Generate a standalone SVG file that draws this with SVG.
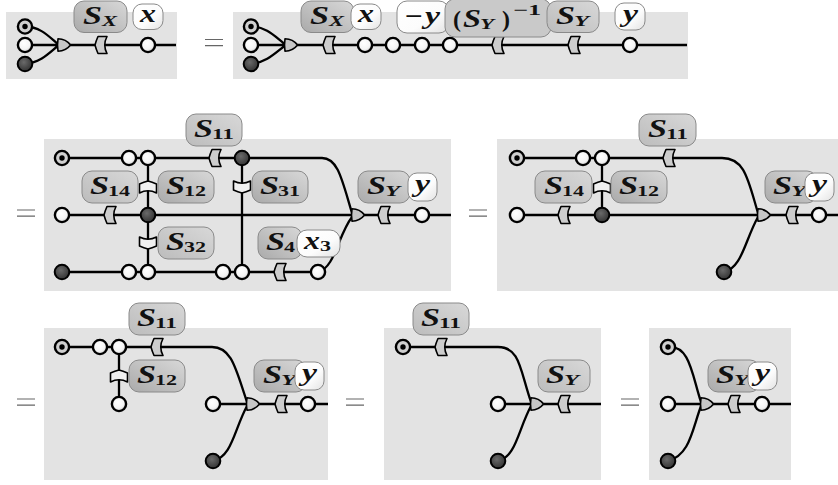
<svg xmlns="http://www.w3.org/2000/svg" width="838" height="485" viewBox="0 0 838 485">
<style>
.panel{fill:#e3e3e3}
.w{fill:none;stroke:#000;stroke-width:2.3}
.eq{stroke:#666;stroke-width:1.2}
.lab{stroke:#8a8a8a;stroke-width:1}
.dk{fill:url(#gd)}.lt{fill:url(#gl)}.fl{fill:#c9c9c9}.wh{fill:url(#gw)}
.m{font-family:"Liberation Serif",serif;font-weight:bold;font-style:italic;font-size:26px;fill:#111}
.s{font-size:15px}
.d{font-family:"Liberation Serif",serif;font-weight:bold;font-style:normal;font-size:15px}
.o{font-family:"Liberation Serif",serif;font-weight:bold;font-style:normal;font-size:24px;fill:#111}
</style>
<defs>
<linearGradient id="gd" x1="0" y1="1" x2="1" y2="0"><stop offset="0" stop-color="#aaa"/><stop offset="1" stop-color="#d8d8d8"/></linearGradient>
<linearGradient id="gl" x1="0" y1="1" x2="1" y2="0"><stop offset="0" stop-color="#bcbcbc"/><stop offset="1" stop-color="#d8d8d8"/></linearGradient>
<linearGradient id="gw" x1="0" y1="0" x2="1" y2="1"><stop offset="0" stop-color="#fff"/><stop offset="0.6" stop-color="#fcfcfc"/><stop offset="1" stop-color="#e2e2e2"/></linearGradient>
<radialGradient id="co" cx="0.42" cy="0.38" r="0.7"><stop offset="0" stop-color="#fff"/><stop offset="0.6" stop-color="#f4f4f4"/><stop offset="1" stop-color="#bdbdbd"/></radialGradient>
<radialGradient id="cd" cx="0.42" cy="0.38" r="0.7"><stop offset="0" stop-color="#6a6a6a"/><stop offset="1" stop-color="#2c2c2c"/></radialGradient>
<g id="open"><circle r="7.1" fill="url(#co)" stroke="#000" stroke-width="2.4"/></g>
<g id="full"><circle r="7.3" fill="url(#cd)" stroke="#000" stroke-width="2"/></g>
<g id="tgt"><circle r="7.1" fill="#cfcfcf" stroke="#000" stroke-width="2.4"/><circle r="2.7" fill="#000"/></g>
<path id="fx" d="M-3 -8.5H6Q1.5 0 6 8.5H-3Q-5 4 -6 0Q-5 -4 -3 -8.5Z" fill="#cdcdcd" stroke="#000" stroke-width="1.6" stroke-linejoin="round"/>
<path id="fxv" d="M-3 -8.5H6Q1.5 0 6 8.5H-3Q-5 4 -6 0Q-5 -4 -3 -8.5Z" fill="#f0f0f0" stroke="#000" stroke-width="1.6" stroke-linejoin="round"/>
<path id="tri" d="M0 -6.2Q8 -6 12.5 0Q8 6 0 6.2Q-1 0 0 -6.2Z" fill="#c6c6c6" stroke="#000" stroke-width="1.6" stroke-linejoin="round"/>
</defs>

<g id="panels">
<rect class="panel" x="6" y="12" width="171" height="67"/>
<rect class="panel" x="233" y="12" width="455" height="67"/>
<rect class="panel" x="44" y="139" width="407" height="152"/>
<rect class="panel" x="497" y="139" width="341" height="152"/>
<rect class="panel" x="44" y="328" width="284" height="152"/>
<rect class="panel" x="384" y="328" width="217" height="152"/>
<rect class="panel" x="649" y="328" width="142" height="152"/>
</g>

<g id="equals">
<path class="eq" d="M205 39.5H223M205 45.7H223M17 210H35M17 216.2H35M469 210H487M469 216.2H487M17 399H35M17 405.2H35M346 399H364M346 405.2H364M621 399H639M621 405.2H639"/>
</g>

<g id="connectors">
<path class="w" d="M25 45H176M25 26.5C42 27 50 38 59 45M25 64C42 62 50 52 59 45"/>
<path class="w" d="M251 45H687M251 26.5C268 27 276 38 286 45M251 64C268 62 276 52 286 45"/>
<path class="w" d="M62 158H322C338 158 342 180 352 213M62 215H451M62 272H318C335 268 338 235 352 217M148 158V272M242 158V272"/>
<path class="w" d="M517 158H722C745 158 748 180 758 213M517 215H838M724 272C742 268 745 240 758 217M602 158V215"/>
<path class="w" d="M62 347H212C232 347 236 370 247 402M213 404H328M213 461C232 457 234 430 247 406M119 347V404"/>
<path class="w" d="M403 347H498C520 347 520 370 531 402M498 404H601M498 461C516 457 518 430 531 406"/>
<path class="w" d="M668 347C690 345 692 375 701 402M668 404H791M668 461C690 455 692 430 701 406"/>
</g>

<g id="nodes">
<g id="a1"><use href="#tgt" x="25" y="26.5"/></g><g id="a2"><use href="#open" x="25" y="45"/></g><g id="a3"><use href="#full" x="25" y="64"/></g>
<g id="a4"><use href="#tri" x="58" y="45"/></g><g id="a5"><use href="#fx" x="101" y="45"/></g><g id="a6"><use href="#open" x="148" y="45"/></g>

<g id="b1"><use href="#tgt" x="251" y="26.5"/></g><g id="b2"><use href="#open" x="251" y="45"/></g><g id="b3"><use href="#full" x="251" y="64"/></g>
<g id="b4"><use href="#tri" x="285" y="45"/></g><g id="b5"><use href="#fx" x="329" y="45"/></g>
<g id="b6"><use href="#open" x="365" y="45"/></g><g id="b7"><use href="#open" x="393" y="45"/></g><g id="b8"><use href="#open" x="422" y="45"/></g><g id="b9"><use href="#open" x="450" y="45"/></g>
<g id="b10"><use href="#fx" x="498" y="45"/></g><g id="b11"><use href="#fx" x="574" y="45"/></g><g id="b12"><use href="#open" x="630" y="45"/></g>

<g id="c1"><use href="#tgt" x="62" y="158"/></g><g id="c2"><use href="#open" x="129" y="158"/></g><g id="c3"><use href="#open" x="148" y="158"/></g>
<g id="c4"><use href="#fx" x="215" y="158"/></g><g id="c5"><use href="#full" x="242" y="158"/></g>
<g id="c6"><use href="#open" x="62" y="215"/></g><g id="c7"><use href="#fx" x="110" y="215"/></g><g id="c8"><use href="#full" x="148" y="215"/></g>
<g id="c9"><use href="#full" x="62" y="272"/></g><g id="c10"><use href="#open" x="129" y="272"/></g><g id="c11"><use href="#open" x="148" y="272"/></g>
<g id="c12"><use href="#open" x="223" y="272"/></g><g id="c13"><use href="#open" x="242" y="272"/></g><g id="c14"><use href="#fx" x="280" y="272"/></g><g id="c15"><use href="#open" x="318" y="272"/></g>
<g id="c16"><use href="#fxv" transform="translate(148 187) rotate(90)"/></g><g id="c17"><use href="#fxv" transform="translate(148 243) rotate(-90)"/></g><g id="c18"><use href="#fxv" transform="translate(242 187) rotate(-90)"/></g>
<g id="c19"><use href="#tri" x="352" y="215"/></g><g id="c20"><use href="#fx" x="384" y="215"/></g><g id="c21"><use href="#open" x="422" y="215"/></g>

<g id="d1"><use href="#tgt" x="517" y="158"/></g><g id="d2"><use href="#open" x="583" y="158"/></g><g id="d3"><use href="#open" x="602" y="158"/></g><g id="d4"><use href="#fx" x="669" y="158"/></g>
<g id="d5"><use href="#open" x="517" y="215"/></g><g id="d6"><use href="#fx" x="564" y="215"/></g><g id="d7"><use href="#full" x="602" y="215"/></g>
<g id="d8"><use href="#fxv" transform="translate(602 187) rotate(90)"/></g><g id="d9"><use href="#full" x="724" y="272"/></g>
<g id="d10"><use href="#tri" x="758" y="215"/></g><g id="d11"><use href="#fx" x="792" y="215"/></g><g id="d12"><use href="#open" x="819" y="215"/></g>

<g id="e1"><use href="#tgt" x="62" y="347"/></g><g id="e2"><use href="#open" x="100" y="347"/></g><g id="e3"><use href="#open" x="119" y="347"/></g><g id="e4"><use href="#fx" x="157" y="347"/></g>
<g id="e5"><use href="#fxv" transform="translate(119 376) rotate(90)"/></g><g id="e6"><use href="#open" x="119" y="404"/></g>
<g id="e7"><use href="#open" x="213" y="404"/></g><g id="e8"><use href="#full" x="213" y="461"/></g><g id="e9"><use href="#tri" x="247" y="404"/></g><g id="e10"><use href="#fx" x="281" y="404"/></g><g id="e11"><use href="#open" x="308" y="404"/></g>

<g id="f1"><use href="#tgt" x="403" y="347"/></g><g id="f2"><use href="#fx" x="441" y="347"/></g><g id="f3"><use href="#open" x="498" y="404"/></g><g id="f4"><use href="#full" x="498" y="461"/></g>
<g id="f5"><use href="#tri" x="531" y="404"/></g><g id="f6"><use href="#fx" x="564" y="404"/></g>

<g id="h1"><use href="#tgt" x="668" y="347"/></g><g id="h2"><use href="#open" x="668" y="404"/></g><g id="h3"><use href="#full" x="668" y="461"/></g>
<g id="h4"><use href="#tri" x="701" y="404"/></g><g id="h5"><use href="#fx" x="734" y="404"/></g><g id="h6"><use href="#open" x="762" y="404"/></g>
</g>

<g id="labels">
<g id="l-sx1"><rect class="lab dk" x="74" y="1" width="53" height="31.5" rx="10"/><text class="m" x="83" y="24"><tspan textLength="19" lengthAdjust="spacingAndGlyphs">S</tspan><tspan class="s" x="102" y="25.5" textLength="15" lengthAdjust="spacingAndGlyphs">X</tspan></text></g>
<g id="l-x1"><rect class="lab wh" x="133" y="4" width="30" height="25.5" rx="9"/><text class="m" x="140" y="22" textLength="16" lengthAdjust="spacingAndGlyphs">x</text></g>

<g id="l-sx2"><rect class="lab dk" x="301" y="1" width="53" height="31.5" rx="10"/><text class="m" x="310" y="24"><tspan textLength="19" lengthAdjust="spacingAndGlyphs">S</tspan><tspan class="s" x="329" y="25.5" textLength="15" lengthAdjust="spacingAndGlyphs">X</tspan></text></g>
<g id="l-x2"><rect class="lab wh" x="351" y="4" width="30" height="25.5" rx="9"/><text class="m" x="358" y="22" textLength="16" lengthAdjust="spacingAndGlyphs">x</text></g>
<g id="l-my"><rect class="lab wh" x="397" y="1" width="52" height="32" rx="10"/><text class="m" x="405" y="24"><tspan class="o" textLength="18" lengthAdjust="spacingAndGlyphs">−</tspan><tspan x="425" y="24" textLength="15" lengthAdjust="spacingAndGlyphs">y</tspan></text></g>
<g id="l-syi"><rect class="lab fl" x="445" y="-1" width="106" height="38" rx="10"/><text class="m" x="453" y="27"><tspan class="o">(</tspan><tspan x="463" y="27" textLength="18" lengthAdjust="spacingAndGlyphs">S</tspan><tspan class="s" x="480" y="29" textLength="14" lengthAdjust="spacingAndGlyphs">Y</tspan><tspan class="o" x="502" y="27">)</tspan><tspan class="d" x="513" y="15" textLength="28" lengthAdjust="spacingAndGlyphs">−1</tspan></text></g>
<g id="l-sy2"><rect class="lab lt" x="547" y="1" width="52" height="31.5" rx="10"/><text class="m" x="556" y="24"><tspan textLength="19" lengthAdjust="spacingAndGlyphs">S</tspan><tspan class="s" x="574" y="25.5" textLength="15" lengthAdjust="spacingAndGlyphs">Y</tspan></text></g>
<g id="l-y2"><rect class="lab wh" x="615" y="3" width="30" height="27" rx="9"/><text class="m" x="623" y="22" textLength="15" lengthAdjust="spacingAndGlyphs">y</text></g>

<g id="l-s11c"><rect class="lab lt" x="186" y="114" width="56" height="32" rx="10"/><text class="m" x="194" y="137"><tspan textLength="19" lengthAdjust="spacingAndGlyphs">S</tspan><tspan class="d" x="212" y="139" textLength="22" lengthAdjust="spacingAndGlyphs">11</tspan></text></g>
<g id="l-s14c"><rect class="lab lt" x="82" y="171" width="56" height="32" rx="10"/><text class="m" x="90" y="194"><tspan textLength="19" lengthAdjust="spacingAndGlyphs">S</tspan><tspan class="d" x="108" y="196" textLength="22" lengthAdjust="spacingAndGlyphs">14</tspan></text></g>
<g id="l-s12c"><rect class="lab dk" x="158" y="171" width="56" height="32" rx="10"/><text class="m" x="166" y="194"><tspan textLength="19" lengthAdjust="spacingAndGlyphs">S</tspan><tspan class="d" x="184" y="196" textLength="22" lengthAdjust="spacingAndGlyphs">12</tspan></text></g>
<g id="l-s32c"><rect class="lab lt" x="158" y="227" width="56" height="32" rx="10"/><text class="m" x="166" y="250"><tspan textLength="19" lengthAdjust="spacingAndGlyphs">S</tspan><tspan class="d" x="184" y="252" textLength="22" lengthAdjust="spacingAndGlyphs">32</tspan></text></g>
<g id="l-s31c"><rect class="lab dk" x="252" y="171" width="56" height="32" rx="10"/><text class="m" x="260" y="194"><tspan textLength="19" lengthAdjust="spacingAndGlyphs">S</tspan><tspan class="d" x="278" y="196" textLength="22" lengthAdjust="spacingAndGlyphs">31</tspan></text></g>
<g id="l-s4c"><rect class="lab dk" x="258" y="227" width="44" height="32" rx="10"/><text class="m" x="266" y="250"><tspan textLength="19" lengthAdjust="spacingAndGlyphs">S</tspan><tspan class="d" x="284" y="252" textLength="11" lengthAdjust="spacingAndGlyphs">4</tspan></text></g>
<g id="l-x3c"><rect class="lab wh" x="297" y="230" width="43" height="27" rx="10"/><text class="m" x="304" y="249"><tspan textLength="16" lengthAdjust="spacingAndGlyphs">x</tspan><tspan class="d" x="320" y="251" textLength="11" lengthAdjust="spacingAndGlyphs">3</tspan></text></g>
<g id="l-syc"><rect class="lab dk" x="358" y="171" width="52" height="32" rx="10"/><text class="m" x="367" y="194"><tspan textLength="19" lengthAdjust="spacingAndGlyphs">S</tspan><tspan class="s" x="385" y="196" textLength="15" lengthAdjust="spacingAndGlyphs">Y</tspan></text></g>
<g id="l-yc"><rect class="lab wh" x="408" y="173" width="29" height="28" rx="9"/><text class="m" x="415" y="192" textLength="15" lengthAdjust="spacingAndGlyphs">y</text></g>

<g id="l-s11d"><rect class="lab lt" x="639" y="114" width="57" height="32" rx="10"/><text class="m" x="648" y="137"><tspan textLength="19" lengthAdjust="spacingAndGlyphs">S</tspan><tspan class="d" x="666" y="139" textLength="22" lengthAdjust="spacingAndGlyphs">11</tspan></text></g>
<g id="l-s14d"><rect class="lab lt" x="535" y="171" width="57" height="32" rx="10"/><text class="m" x="544" y="194"><tspan textLength="19" lengthAdjust="spacingAndGlyphs">S</tspan><tspan class="d" x="562" y="196" textLength="22" lengthAdjust="spacingAndGlyphs">14</tspan></text></g>
<g id="l-s12d"><rect class="lab dk" x="611" y="171" width="56" height="32" rx="10"/><text class="m" x="619" y="194"><tspan textLength="19" lengthAdjust="spacingAndGlyphs">S</tspan><tspan class="d" x="637" y="196" textLength="22" lengthAdjust="spacingAndGlyphs">12</tspan></text></g>
<g id="l-syd"><rect class="lab dk" x="765" y="171" width="52" height="32" rx="10"/><text class="m" x="773" y="194"><tspan textLength="19" lengthAdjust="spacingAndGlyphs">S</tspan><tspan class="s" x="791" y="196" textLength="15" lengthAdjust="spacingAndGlyphs">Y</tspan></text></g>
<g id="l-yd"><rect class="lab wh" x="805" y="173" width="29" height="28" rx="9"/><text class="m" x="812" y="192" textLength="15" lengthAdjust="spacingAndGlyphs">y</text></g>

<g id="l-s11e"><rect class="lab lt" x="129" y="303" width="56" height="32" rx="10"/><text class="m" x="137" y="326"><tspan textLength="19" lengthAdjust="spacingAndGlyphs">S</tspan><tspan class="d" x="155" y="328" textLength="22" lengthAdjust="spacingAndGlyphs">11</tspan></text></g>
<g id="l-s12e"><rect class="lab dk" x="129" y="360" width="56" height="32" rx="10"/><text class="m" x="137" y="383"><tspan textLength="19" lengthAdjust="spacingAndGlyphs">S</tspan><tspan class="d" x="155" y="385" textLength="22" lengthAdjust="spacingAndGlyphs">12</tspan></text></g>
<g id="l-sye"><rect class="lab dk" x="254" y="360" width="52" height="32" rx="10"/><text class="m" x="263" y="383"><tspan textLength="19" lengthAdjust="spacingAndGlyphs">S</tspan><tspan class="s" x="281" y="385" textLength="15" lengthAdjust="spacingAndGlyphs">Y</tspan></text></g>
<g id="l-ye"><rect class="lab wh" x="295" y="362" width="29" height="28" rx="9"/><text class="m" x="302" y="381" textLength="15" lengthAdjust="spacingAndGlyphs">y</text></g>

<g id="l-s11f"><rect class="lab lt" x="413" y="303" width="56" height="32" rx="10"/><text class="m" x="421" y="326"><tspan textLength="19" lengthAdjust="spacingAndGlyphs">S</tspan><tspan class="d" x="439" y="328" textLength="22" lengthAdjust="spacingAndGlyphs">11</tspan></text></g>
<g id="l-syf"><rect class="lab lt" x="538" y="360" width="52" height="32" rx="10"/><text class="m" x="546" y="383"><tspan textLength="19" lengthAdjust="spacingAndGlyphs">S</tspan><tspan class="s" x="564" y="385" textLength="15" lengthAdjust="spacingAndGlyphs">Y</tspan></text></g>

<g id="l-syh"><rect class="lab dk" x="708" y="360" width="52" height="32" rx="10"/><text class="m" x="716" y="383"><tspan textLength="19" lengthAdjust="spacingAndGlyphs">S</tspan><tspan class="s" x="734" y="385" textLength="15" lengthAdjust="spacingAndGlyphs">Y</tspan></text></g>
<g id="l-yh"><rect class="lab wh" x="748" y="362" width="29" height="28" rx="9"/><text class="m" x="755" y="381" textLength="15" lengthAdjust="spacingAndGlyphs">y</text></g>
</g>
</svg>
